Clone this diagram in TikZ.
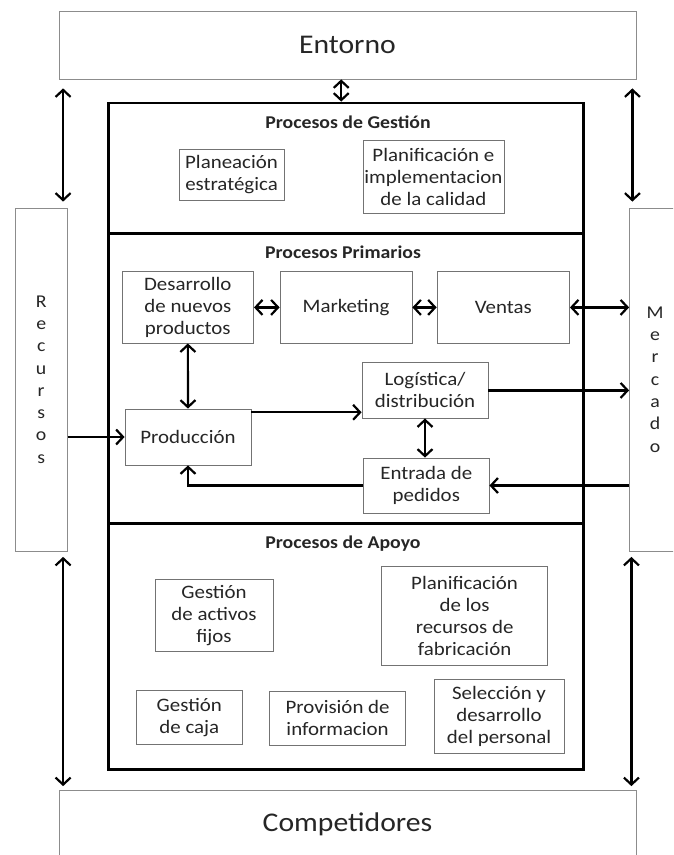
\documentclass[tikz,border=0pt]{standalone}
\usepackage{fontspec}
\setmainfont[FakeStretch=1.1]{Carlito}
\usetikzlibrary{arrows.meta}

\begin{document}
\begin{tikzpicture}[x=1pt, y=-1pt, >={Straight Barb[length=7pt,width=15pt]},
    box/.style={draw=black!55, line width=0.8pt, align=center, inner sep=0pt, text=black!85, font=\fontsize{19}{22}\selectfont},
    big/.style={draw=black!45, line width=0.8pt, inner sep=0pt, text=black!85, font=\fontsize{27}{32}\selectfont},
    side/.style={draw=black!45, line width=0.8pt, align=center, inner sep=0pt, text=black!85, font=\fontsize{18}{22.3}\selectfont},
    sect/.style={draw, line width=2.8pt, inner sep=0pt, minimum width=475pt},
    title/.style={text=black!85, font=\bfseries\fontsize{18}{22}\selectfont},
    conn/.style={line width=2.2pt}]
    \clip (0,0) rectangle (673,855);
    \fill[white] (0,0) rectangle (673,855);
    % outside world
    \node[big, minimum width=577pt, minimum height=68pt] (entorno) at (347.5,45) {Entorno};
    \node[big, minimum width=577pt, minimum height=68pt] (competidores) at (347.5,824) {Competidores};
    \node[side, minimum width=52pt, minimum height=343pt] (recursos) at (41.2,379.5) {R\\e\\c\\u\\r\\s\\o\\s};
    \node[side, minimum width=51pt, minimum height=343pt] (mercado) at (655,379.5) {M\\e\\r\\c\\a\\d\\o};
    % the three layers
    \node[sect, minimum height=130pt] (gestion) at (346.2,168) {};
    \node[sect, minimum height=290pt] (primarios) at (346.2,378.2) {};
    \node[sect, minimum height=246pt] (apoyo) at (346.2,646.3) {};
    \node[title] (tgestion) at (348,122) {Procesos de Gestión};
    \node[title] (tprimarios) at (343,252) {Procesos Primarios};
    \node[title] (tapoyo) at (343,544) {Procesos de Apoyo};
    % gestion
    \node[box, minimum width=105pt, minimum height=51pt] (planeacion) at (231.5,174.5) {Planeación\\estratégica};
    \node[box, minimum width=141pt, minimum height=73pt] (calidad) at (433.4,176.5) {Planificación e\\implementacion\\de la calidad};
    % primarios
    \node[box, minimum width=131.6pt, minimum height=71.3pt] (desarrollo) at (187.8,307.4) {Desarrollo\\de nuevos\\productos};
    \node[box, minimum width=132pt, minimum height=71.3pt] (marketing) at (346,307.4) {Marketing};
    \node[box, minimum width=132.5pt, minimum height=71.3pt] (ventas) at (503.3,307.4) {Ventas};
    \node[box, minimum width=126pt, minimum height=55.3pt] (logistica) at (425,390.4) {Logística/\\distribución};
    \node[box, minimum width=126pt, minimum height=56pt] (produccion) at (188,437) {Producción};
    \node[box, minimum width=125.5pt, minimum height=55pt] (pedidos) at (426.3,485.5) {Entrada de\\pedidos};
    % apoyo
    \node[box, minimum width=118pt, minimum height=72.7pt] (activos) at (214,615.4) {Gestión\\de activos\\fijos};
    \node[box, minimum width=166pt, minimum height=98.3pt] (fabricacion) at (464.6,615.9) {Planificación\\de los\\recursos de\\fabricación};
    \node[box, minimum width=105.5pt, minimum height=53.3pt] (caja) at (189.3,717.4) {Gestión\\de caja};
    \node[box, minimum width=136pt, minimum height=53.3pt] (informacion) at (337.6,718.4) {Provisión de\\informacion};
    \node[box, minimum width=130pt, minimum height=74pt] (personal) at (499,716) {Selección y\\desarrollo\\del personal};
    % connectors
    \draw[conn, <->] ([xshift=-5pt]gestion.north) -- ([xshift=-5pt]gestion.north |- entorno.south);
    \draw[conn, <->, shorten <=9pt, shorten >=6pt] ([xshift=4.5pt]entorno.south west) -- ([xshift=4.5pt]entorno.south west |- recursos.north);
    \draw[conn, <->, shorten <=9pt, shorten >=6pt] ([xshift=-4pt]entorno.south east) -- ([xshift=-4pt]entorno.south east |- mercado.north);
    \draw[conn, <->, shorten <=5.5pt, shorten >=3.5pt] ([xshift=4.5pt]competidores.north west |- recursos.south) -- ([xshift=4.5pt]competidores.north west);
    \draw[conn, <->, shorten <=5.5pt, shorten >=3.5pt] ([xshift=-5pt]competidores.north east |- mercado.south) -- ([xshift=-5pt]competidores.north east);
    \draw[conn, <->] (desarrollo) -- (marketing);
    \draw[conn, <->] (marketing) -- (ventas);
    \draw[conn, <->] (ventas.east) -- (ventas.east -| mercado.west);
    \draw[conn, <->] (desarrollo) -- (produccion);
    \draw[conn, ->] ([yshift=-3.7pt]produccion.north east) -- ([yshift=-3.7pt]produccion.north east -| logistica.west);
    \draw[conn, ->] (logistica.east) -- (logistica.east -| mercado.west);
    \draw[conn, <->] (logistica.south) -- (logistica.south |- pedidos.north);
    \draw[conn, ->] (pedidos.east -| mercado.west) -- (pedidos.east);
    \draw[conn, ->] (pedidos.west) -| (produccion.south);
    \draw[conn, ->] (recursos.east |- produccion.west) -- (produccion.west);
\end{tikzpicture}
\end{document}
